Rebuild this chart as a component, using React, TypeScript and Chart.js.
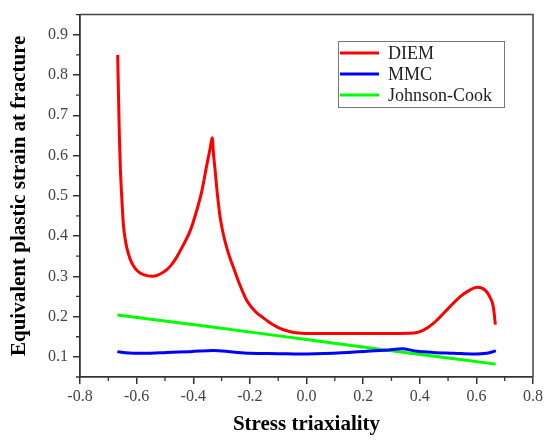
import React, { useEffect, useRef } from "react";
import Chart from "chart.js/auto";

// axis ticks
const X_TICKS = [-0.8, -0.6, -0.4, -0.2, 0.0, 0.2, 0.4, 0.6, 0.8];
const Y_TICKS = [0.1, 0.2, 0.3, 0.4, 0.5, 0.6, 0.7, 0.8, 0.9];

// DIEM curve
const DIEM_X = [
  -0.667, -0.664, -0.661, -0.657, -0.652, -0.647, -0.641, -0.635, -0.624, -0.612,
  -0.595, -0.576, -0.543, -0.506, -0.48, -0.459, -0.435, -0.411, -0.39, -0.37,
  -0.352, -0.341, -0.333, -0.328, -0.322, -0.317, -0.311, -0.305, -0.294, -0.282,
  -0.27, -0.258, -0.235, -0.211, -0.18, -0.153, -0.125, -0.094, -0.06, -0.03,
  0.0, 0.1, 0.2, 0.3, 0.38, 0.41, 0.448, 0.495, 0.542, 0.575,
  0.601, 0.622, 0.637, 0.65, 0.66, 0.667,
];
const DIEM_Y = [
  0.85, 0.75, 0.65, 0.56, 0.49, 0.43, 0.395, 0.372, 0.345, 0.327,
  0.312, 0.304, 0.3, 0.31, 0.326, 0.347, 0.378, 0.413, 0.458, 0.511,
  0.577, 0.615, 0.644, 0.6, 0.558, 0.519, 0.48, 0.446, 0.405, 0.372,
  0.345, 0.322, 0.278, 0.24, 0.212, 0.197, 0.183, 0.171, 0.163, 0.159,
  0.158, 0.158, 0.158, 0.158, 0.159, 0.165, 0.183, 0.216, 0.249, 0.265,
  0.273, 0.27, 0.261, 0.245, 0.224, 0.18,
];

const MMC_X = [
  -0.668, -0.64, -0.612, -0.55, -0.494, -0.41, -0.329, -0.26, -0.2, -0.1,
  -0.023, 0.095, 0.213, 0.29, 0.336, 0.39, 0.448, 0.52, 0.589, 0.637, 0.669,
];
const MMC_Y = [
  0.113, 0.11, 0.109, 0.109, 0.111, 0.113, 0.116, 0.112, 0.109, 0.108,
  0.107, 0.109, 0.114, 0.117, 0.12, 0.114, 0.111, 0.109, 0.107, 0.109, 0.115,
];

const JC_X = [-0.668, -0.333, 0.0, 0.333, 0.668];
const JC_Y = [0.204, 0.174, 0.143, 0.112, 0.082];

const SERIES = ["DIEM", "MMC", "Johnson-Cook"];
const COLORS = ["#ff0000", "#0000ff", "#00ff00"];

const pts = (xs: number[], ys: number[]) => xs.map((x, i) => ({ x, y: ys[i] }));

// frame, minor ticks and boxed legend
const decorations = {
  id: "decorations",
  afterDraw(chart: any) {
    const { ctx, chartArea: a, scales } = chart;
    ctx.save();
    ctx.strokeStyle = "#444";
    ctx.lineWidth = 1.5;
    ctx.beginPath();
    ctx.moveTo(a.left, a.top);
    ctx.lineTo(a.right, a.top);
    ctx.lineTo(a.right, a.bottom);
    ctx.stroke();

    ctx.strokeStyle = "#333";
    ctx.lineWidth = 1.3;
    ctx.beginPath();
    for (let i = 0; i < X_TICKS.length - 1; i++) {
      const px = scales.x.getPixelForValue((X_TICKS[i] + X_TICKS[i + 1]) / 2);
      ctx.moveTo(px, a.bottom);
      ctx.lineTo(px, a.bottom + 4);
    }
    const yMinor = [0.05, ...Y_TICKS.map((v) => v + 0.05)];
    for (const v of yMinor) {
      const py = scales.y.getPixelForValue(v);
      ctx.moveTo(a.left, py);
      ctx.lineTo(a.left - 4, py);
    }
    ctx.stroke();

    // legend
    const lx = 338;
    const ly = 41;
    ctx.strokeStyle = "#777";
    ctx.lineWidth = 1;
    ctx.strokeRect(lx + 0.5, ly + 0.5, 166, 66);
    ctx.font = "18px 'Liberation Serif'";
    ctx.textBaseline = "middle";
    ctx.fillStyle = "#222";
    SERIES.forEach((name, i) => {
      const y = ly + 12 + i * 21;
      ctx.strokeStyle = COLORS[i];
      ctx.lineWidth = 3;
      ctx.beginPath();
      ctx.moveTo(lx + 2, y);
      ctx.lineTo(lx + 41, y);
      ctx.stroke();
      ctx.fillText(name, lx + 50, y + 1);
    });
    ctx.restore();
  },
};

const tickFont = { family: "'Liberation Serif'", size: 16 };
const titleFont = { family: "'Liberation Serif'", size: 21, weight: "bold" as const };

const App: React.FC = () => {
  const canvasRef = useRef<HTMLCanvasElement | null>(null);

  useEffect(() => {
    document.body.style.margin = "0";
    if (!canvasRef.current) return;
    const chart = new Chart(canvasRef.current, {
      type: "scatter",
      data: {
        datasets: [
          { label: SERIES[0], data: pts(DIEM_X, DIEM_Y) },
          { label: SERIES[1], data: pts(MMC_X, MMC_Y) },
          { label: SERIES[2], data: pts(JC_X, JC_Y) },
        ].map((d, i) => ({
          ...d,
          showLine: true,
          borderColor: COLORS[i],
          backgroundColor: COLORS[i],
          borderWidth: 3,
          pointRadius: 0,
          cubicInterpolationMode: "monotone" as const,
        })),
      },
      options: {
        animation: false,
        responsive: true,
        maintainAspectRatio: false,
        layout: { padding: { left: 0, top: 11, right: 17, bottom: 0 } },
        plugins: { legend: { display: false }, tooltip: { enabled: false } },
        scales: {
          x: {
            type: "linear",
            min: -0.8,
            max: 0.8,
            afterBuildTicks: (s: any) => {
              s.ticks = X_TICKS.map((value) => ({ value }));
            },
            afterFit: (s: any) => {
              s.height = 67;
            },
            grid: { drawOnChartArea: false, tickLength: 7, color: "#333", lineWidth: 1.5 },
            border: { color: "#333", width: 1.8 },
            ticks: {
              font: tickFont,
              color: "#444",
              padding: 3,
              maxRotation: 0,
              autoSkip: false,
              callback: (v: any) => Number(v).toFixed(1),
            },
            title: {
              display: true,
              text: "Stress triaxiality",
              font: titleFont,
              color: "#000",
              padding: { top: 0, bottom: 7 },
            },
          },
          y: {
            type: "linear",
            min: 0.05,
            max: 0.95,
            afterBuildTicks: (s: any) => {
              s.ticks = Y_TICKS.map((value) => ({ value }));
            },
            afterFit: (s: any) => {
              s.width = 80;
            },
            grid: { drawOnChartArea: false, tickLength: 7, color: "#333", lineWidth: 1.5 },
            border: { color: "#333", width: 1.8 },
            ticks: {
              font: tickFont,
              color: "#444",
              padding: 5,
              autoSkip: false,
              callback: (v: any) => Number(v).toFixed(1),
            },
            title: {
              display: true,
              text: "Equivalent plastic strain at fracture",
              font: titleFont,
              color: "#000",
              padding: { top: 7, bottom: 0 },
            },
          },
        },
      },
      plugins: [decorations],
    });
    return () => {
      chart.destroy();
    };
  }, []);

  return (
    <div style={{ position: "relative", width: 550, height: 444 }}>
      <canvas ref={canvasRef} />
    </div>
  );
};

export default App;
